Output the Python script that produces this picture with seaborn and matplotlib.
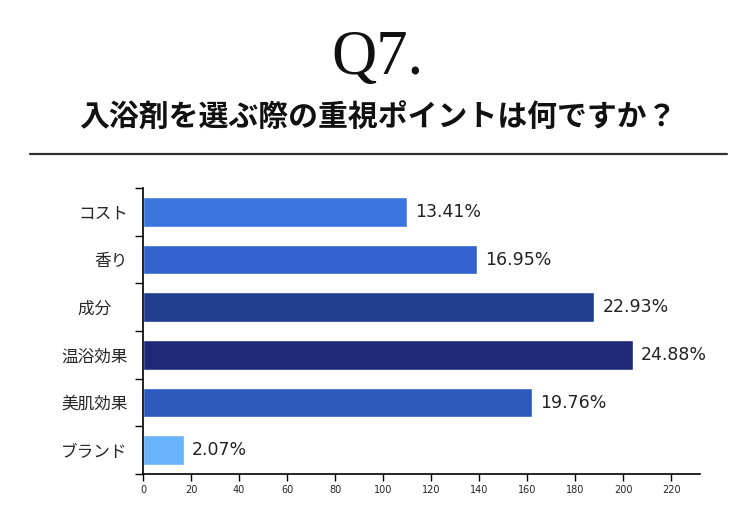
import numpy as np
import pandas as pd
import matplotlib
matplotlib.use('Agg')
import matplotlib.pyplot as plt
import seaborn as sns
from matplotlib.lines import Line2D

# データ（回答数）
categories = ['コスト', '香り', '成分　', '温浴効果', '美肌効果', 'ブランド']
counts = [110, 139, 188, 204, 162, 17]
pct_labels = ['13.41%', '16.95%', '22.93%', '24.88%', '19.76%', '2.07%']
bar_colors = ['#3a76de', '#3462cf', '#213e8f', '#1e2a78', '#2e59bc', '#69b3fb']
x_ticks = list(range(0, 221, 20))

sns.set_style('white')
plt.rcParams['font.family'] = ['Noto Sans CJK JP', 'DejaVu Sans']

df = pd.DataFrame({'item': categories, 'n': counts})

fig = plt.figure(figsize=(7.55, 5.27), dpi=100)
ax = fig.add_axes([143 / 755, 1 - 474 / 527, (700 - 143) / 755, (474 - 188) / 527])

sns.barplot(data=df, x='n', y='item', hue='item', palette=bar_colors,
            orient='h', width=0.62, legend=False, saturation=1, ax=ax)

# 値ラベル
for i, (v, lab) in enumerate(zip(counts, pct_labels)):
    ax.text(v + 3.5, i, lab, va='center', ha='left', fontsize=12.5,
            color='#222222', family=['DejaVu Sans'])

ax.set_xlim(0, 232)
ax.set_ylim(5.5, -0.5)
ax.set_xticks(x_ticks)
ax.set_xticklabels([str(t) for t in x_ticks], fontsize=7, family=['DejaVu Sans'])
ax.set_yticks(range(len(categories)))
ax.set_yticklabels(categories, fontsize=12)
ax.set_yticks(np.arange(-0.5, 6, 1), minor=True)
ax.tick_params(axis='y', which='major', left=True, length=0, pad=11)
ax.tick_params(axis='y', which='minor', left=True, length=6, width=1,
               color='black', direction='out')
ax.tick_params(axis='x', bottom=True, length=5, width=1, color='black',
               direction='out', pad=3, labelcolor='#222222')
ax.set_xlabel('')
ax.set_ylabel('')
for s in ['top', 'right']:
    ax.spines[s].set_visible(False)
for s in ['left', 'bottom']:
    ax.spines[s].set_color('black')
    ax.spines[s].set_linewidth(1.2)

# タイトル
fig.text(0.5, 1 - 59 / 527, 'Q7.', ha='center', va='center', fontsize=45,
         family=['Liberation Serif'], color='#111111')
fig.text(0.5, 1 - 118 / 527, '入浴剤を選ぶ際の重視ポイントは何ですか？', ha='center',
         va='center', fontsize=21.5, fontweight='bold', color='#111111')
fig.add_artist(Line2D([30 / 755, 727 / 755], [1 - 154 / 527, 1 - 154 / 527],
                      color='#333333', linewidth=1.6, transform=fig.transFigure))

fig.savefig('out.png', dpi=100)
plt.close()
